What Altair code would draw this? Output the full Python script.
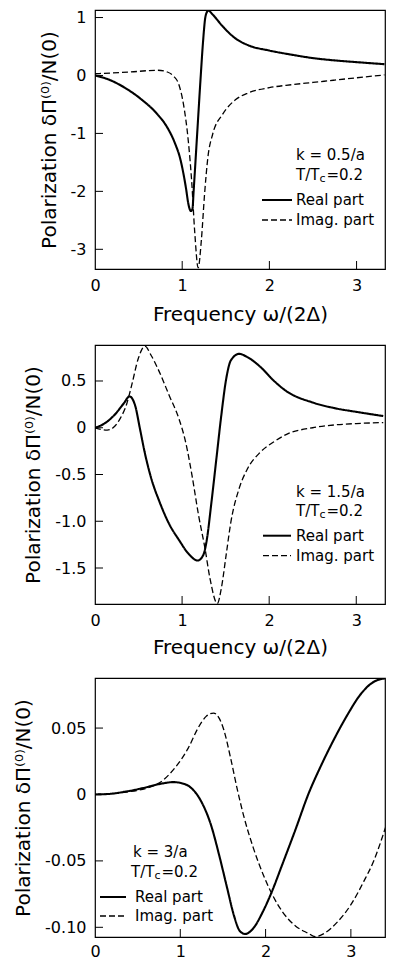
import altair as alt
import pandas as pd

# ---------------- data ----------------
# Panel 1: k = 0.5/a
p1_real_x = [0, 0.157, 0.34, 0.53, 0.716, 0.83, 0.92, 0.978, 1.015, 1.045, 1.07, 1.1, 1.118,
             1.131, 1.172, 1.213, 1.24, 1.265, 1.29, 1.30, 1.35, 1.463, 1.61, 1.76, 2.0,
             2.25, 2.5, 2.75, 3.0, 3.32]
p1_real_y = [0, -0.07, -0.21, -0.41, -0.67, -0.90, -1.18, -1.44, -1.70, -1.96, -2.21, -2.34, -2.3,
             -2.0, -1.0, 0.0, 0.6, 1.0, 1.11, 1.12, 1.05, 0.85, 0.64, 0.52, 0.43,
             0.36, 0.30, 0.26, 0.23, 0.195]
p1_imag_x = [0, 0.4, 0.716, 0.83, 0.90, 0.96, 1.015, 1.07, 1.108, 1.145, 1.183, 1.22, 1.257,
             1.295, 1.35, 1.463, 1.61, 1.76, 2.0, 2.25, 2.5, 2.75, 3.0, 3.32]
p1_imag_y = [0.03, 0.06, 0.09, 0.06, -0.01, -0.15, -0.5, -1.13, -1.81, -2.73, -3.32, -2.84, -2.04,
             -1.41, -1.01, -0.67, -0.42, -0.30, -0.21, -0.16, -0.12, -0.08, -0.04, 0.01]

# Panel 2: k = 1.5/a
p2_real_x = [0, 0.105, 0.217, 0.33, 0.396, 0.46, 0.516, 0.57, 0.647, 0.74, 0.852, 0.964, 1.076,
             1.18, 1.244, 1.28, 1.338, 1.394, 1.45, 1.506, 1.56, 1.655, 1.75, 1.9, 2.05, 2.2,
             2.5, 2.75, 3.0, 3.31]
p2_real_y = [0, 0.043, 0.13, 0.26, 0.335, 0.24, -0.01, -0.26, -0.545, -0.79, -1.03, -1.20, -1.35,
             -1.42, -1.36, -1.22, -0.79, -0.33, 0.13, 0.52, 0.72, 0.79, 0.755, 0.65, 0.506, 0.39,
             0.27, 0.21, 0.17, 0.125]
p2_imag_x = [0, 0.067, 0.14, 0.217, 0.29, 0.366, 0.42, 0.497, 0.572, 0.647, 0.74, 0.852, 0.964,
             1.04, 1.114, 1.19, 1.263, 1.32, 1.405, 1.45, 1.506, 1.56, 1.655, 1.75, 1.9, 2.05,
             2.2, 2.5, 2.75, 3.0, 3.31]
p2_imag_y = [0, -0.018, -0.025, 0.007, 0.1, 0.26, 0.45, 0.74, 0.873, 0.77, 0.595, 0.345, 0.096,
             -0.15, -0.51, -0.94, -1.29, -1.61, -1.88, -1.72, -1.36, -1.01, -0.65, -0.44, -0.26, -0.153,
             -0.07, 0.0, 0.03, 0.045, 0.055]

# Panel 3: k = 3/a
p3_real_x = [0, 0.18, 0.37, 0.56, 0.75, 0.92, 1.017, 1.13, 1.246, 1.36, 1.455, 1.55, 1.627, 1.70,
             1.76, 1.855, 1.97, 2.065, 2.2, 2.35, 2.5, 2.655, 2.81, 2.96, 3.11, 3.265, 3.38, 3.41]
p3_real_y = [0, 0.0005, 0.0023, 0.0048, 0.0078, 0.0093, 0.0085, 0.0048, -0.0053, -0.023, -0.0455,
             -0.0706, -0.0907, -0.103, -0.105, -0.1008, -0.0880, -0.0745, -0.0520, -0.0265, 0.0,
             0.0224, 0.0425, 0.060, 0.0751, 0.0847, 0.0872, 0.0875]
p3_imag_x = [0, 0.37, 0.75, 0.865, 0.98, 1.093, 1.208, 1.303, 1.39, 1.455, 1.51, 1.59, 1.665, 1.74,
             1.855, 1.97, 2.08, 2.2, 2.35, 2.5, 2.58, 2.69, 2.846, 3.0, 3.15, 3.265, 3.41]
p3_imag_y = [0, 0.0018, 0.0085, 0.0148, 0.0236, 0.0349, 0.050, 0.0588, 0.0613, 0.0575, 0.0487,
             0.0274, 0.0048, -0.0153, -0.040, -0.060, -0.0756, -0.0885, -0.099, -0.1045, -0.107,
             -0.1045, -0.0957, -0.083, -0.0656, -0.0505, -0.024]

x_tick_values = [0, 1, 2, 3]
p1_y_ticks = [-3, -2, -1, 0, 1]
p2_y_ticks = [-1.5, -1.0, -0.5, 0, 0.5]
p3_y_ticks = [-0.10, -0.05, 0, 0.05]

parts = ["Real part", "Imag. part"]
k_labels = ["k = 0.5/a", "k = 1.5/a", "k = 3/a"]
temp_text = ["T/T", "c", "=0.2"]
x_title = "Frequency  ω/(2Δ)"
y_title = "Polarization  δΠ⁽⁰⁾/N(0)"

FONT = "DejaVu Sans"


def long_df(rx, ry, ix, iy):
    return pd.concat([
        pd.DataFrame({"x": rx, "y": ry, "part": parts[0]}),
        pd.DataFrame({"x": ix, "y": iy, "part": parts[1]}),
    ], ignore_index=True)


def panel(df, xdom, ydom, yticks, label_expr, W, H, show_xtitle, xtitle_pad, xlabel_pad, ann):
    x_enc = alt.X("x:Q", scale=alt.Scale(domain=xdom, nice=False, zero=False),
                  axis=alt.Axis(values=x_tick_values, format="d", ticks=False, tickSize=0,
                                domain=False, grid=False, labelFontSize=16, labelPadding=xlabel_pad,
                                labelFlush=False, labelColor="black",
                                title=x_title if show_xtitle else "",
                                titleFontSize=20, titleFontWeight="normal",
                                titlePadding=xtitle_pad, titleColor="black"))
    y_enc = alt.Y("y:Q", scale=alt.Scale(domain=ydom, nice=False, zero=False),
                  axis=alt.Axis(values=yticks, labelExpr=label_expr, ticks=False, tickSize=0,
                                domain=False, grid=False, labelFontSize=16, labelPadding=9,
                                labelFlush=False, labelColor="black",
                                title=y_title, titleFontSize=20, titleFontWeight="normal",
                                titlePadding=11, titleColor="black"))

    lines = alt.Chart(df).mark_line(clip=True, color="black", interpolate="monotone").encode(
        x=x_enc, y=y_enc,
        strokeDash=alt.StrokeDash("part:N", scale=alt.Scale(domain=parts, range=[[1, 0], [6, 3]]),
                                  legend=None),
        strokeWidth=alt.StrokeWidth("part:N", scale=alt.Scale(domain=parts, range=[2.1, 1.3]),
                                    legend=None),
    )
    yt = alt.Chart(pd.DataFrame({"y": yticks})).mark_rule(color="black", strokeWidth=1).encode(
        y=y_enc, x=alt.value(0), x2=alt.value(8))
    xt = alt.Chart(pd.DataFrame({"x": x_tick_values[1:]})).mark_rule(color="black", strokeWidth=1).encode(
        x=x_enc, y=alt.value(H), y2=alt.value(H - 8))

    kx, ky, tx, ty, lx0, lx1, tx_leg, ry, iy, klabel = ann
    layers = [lines, yt, xt]

    def txt(s, x, y, size=15):
        return alt.Chart(pd.DataFrame({"t": [s]})).mark_text(
            align="left", baseline="middle", fontSize=size, font=FONT, color="black").encode(
            text="t:N", x=alt.value(x), y=alt.value(y))

    layers.append(txt(klabel, kx, ky))
    layers.append(txt(temp_text[0], tx, ty))
    layers.append(txt(temp_text[1], tx + 23.5, ty + 4, 11))
    layers.append(txt(temp_text[2], tx + 30.5, ty))
    layers.append(alt.Chart(pd.DataFrame({"p": [parts[0]]})).mark_rule(color="black", strokeWidth=2).encode(
        x=alt.value(lx0), x2=alt.value(lx1), y=alt.value(ry)))
    layers.append(alt.Chart(pd.DataFrame({"p": [parts[1]]})).mark_rule(
        color="black", strokeWidth=1.3, strokeDash=[6, 3]).encode(
        x=alt.value(lx0), x2=alt.value(lx1), y=alt.value(iy)))
    layers.append(txt(parts[0], tx_leg, ry))
    layers.append(txt(parts[1], tx_leg, iy))
    return alt.layer(*layers).properties(width=W, height=H)


df1 = long_df(p1_real_x, p1_real_y, p1_imag_x, p1_imag_y)
df2 = long_df(p2_real_x, p2_real_y, p2_imag_x, p2_imag_y)
df3 = long_df(p3_real_x, p3_real_y, p3_imag_x, p3_imag_y)

c1 = panel(df1, [0, 3.326], [-3.34, 1.13], p1_y_ticks,
           "replace(format(datum.value, 'd'), '−', '-')",
           290, 259, True, 11, 8,
           (201, 145, 201, 165, 167, 197, 201, 190, 210, k_labels[0]))
c2 = panel(df2, [0, 3.33], [-1.885, 0.885], p2_y_ticks,
           "datum.value == 0 ? '0' : replace(format(datum.value, '.1f'), '−', '-')",
           290, 259, True, 9, 8,
           (201, 146.7, 201, 165.7, 168, 196, 201, 190.7, 210.7, k_labels[1]))
c3 = panel(df3, [0, 3.40], [-0.1073, 0.0877], p3_y_ticks,
           "datum.value == 0 ? '0' : replace(format(datum.value, '.2f'), '−', '-')",
           290, 259, False, 9, 6,
           (38, 174, 36, 194, 5, 31, 40, 219, 238, k_labels[2]))

chart = alt.vconcat(c1, c2, c3, spacing=19).properties(
    padding={"left": 5, "top": 0, "right": 0, "bottom": 0}
).configure(font=FONT).configure_view(stroke="black", strokeWidth=1.2)

chart.save("out.html", embed_options={"renderer": "svg", "actions": False})
